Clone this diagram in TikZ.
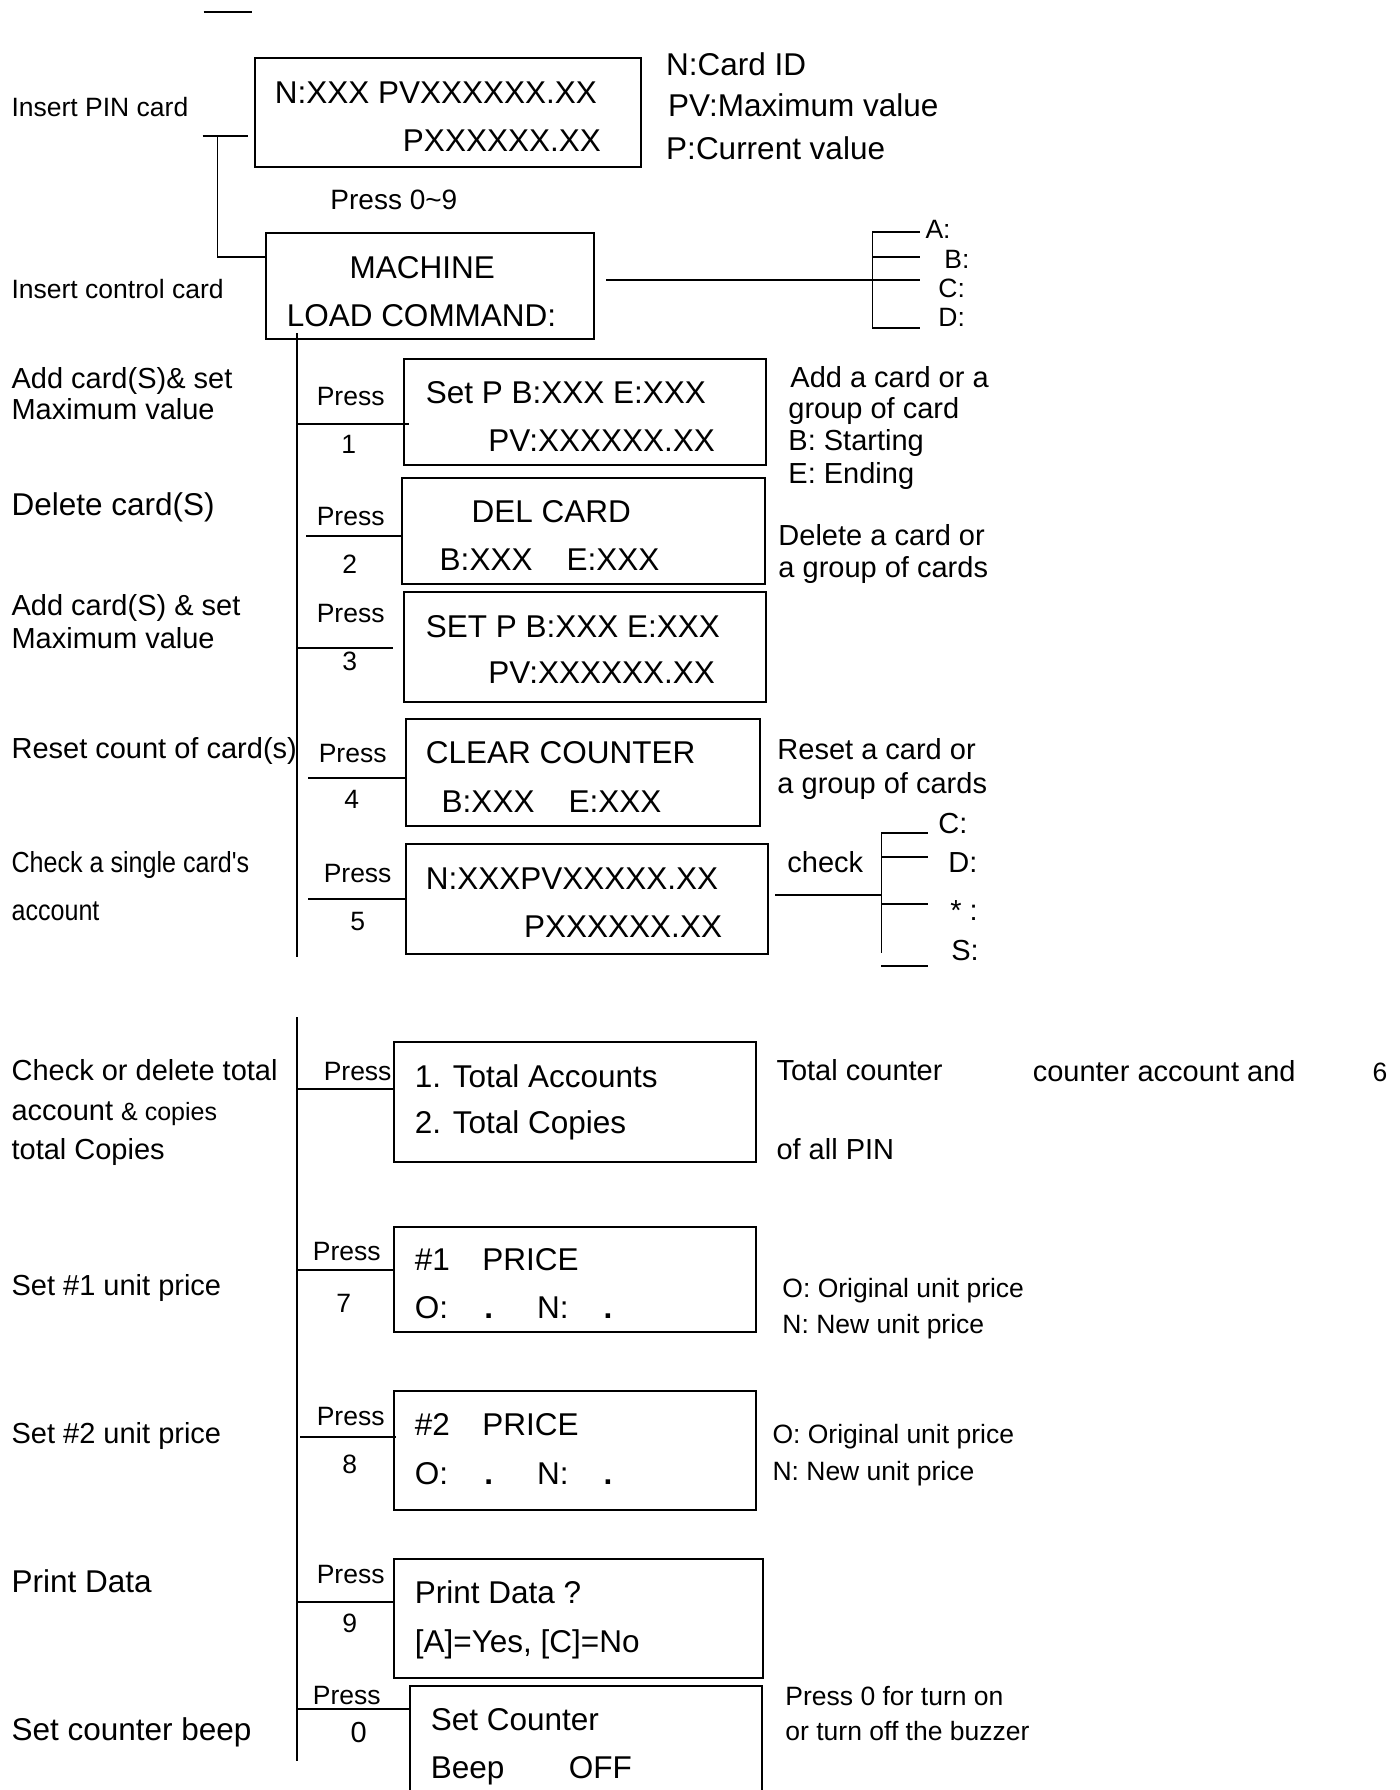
\documentclass[tikz,border=0pt]{standalone}
\usepackage{graphicx}
\usepackage{fontspec}
\setmainfont{Liberation Sans}
\usepackage{tikz}
\usetikzlibrary{positioning}

\begin{document}
\begin{tikzpicture}[x=0.9934pt, y=-1pt, line width=1.3pt]

	\tikzstyle{lcd}=[draw, line width=2pt, anchor=north west, inner sep=0pt]
	\tikzstyle{lcdtext}=[anchor=base west, inner sep=0pt, font=\fontsize{31.5}{36}\selectfont]
	\tikzstyle{caption}=[anchor=base west, inner sep=0pt, font=\fontsize{29}{34}\selectfont]
	\tikzstyle{hint}=[anchor=base west, inner sep=0pt, font=\fontsize{26.5}{30}\selectfont]
	\tikzstyle{press}=[anchor=base, inner sep=0pt, font=\fontsize{26.5}{30}\selectfont]
	\useasboundingbox (0,0) rectangle (1409.3,1790);
	\clip (0,0) rectangle (1409.3,1790);
	\fill[white] (0,0) rectangle (1409.3,1790);

	% top bar
	\coordinate (bar1) at (205,12);
	\coordinate (bar2) at (254,12);
	\draw (bar1) -- (bar2);

	% PIN card screen
	\node[lcd, minimum width=386, minimum height=109] (pin) at (256,57) {};
	\node[lcdtext] (pin-a) at (276,104) {N:XXX PVXXXXXX.XX};
	\node[lcdtext] (pin-b) at (405,152) {PXXXXXX.XX};
	\node[lcdtext] (n-id) at (670,76) {N:Card ID};
	\node[lcdtext] (pv-id) at (672,117) {PV:Maximum value};
	\node[lcdtext] (p-id) at (670,160) {P:Current value};
	\node[hint] (ins-pin) at (11,117) {Insert PIN card};
	\node[anchor=base west, inner sep=0pt, font=\fontsize{28}{32}\selectfont] (press09) at (332,209) {Press 0\textasciitilde 9};

	% control card screen
	\node[lcd, minimum width=328, minimum height=106] (machine) at (267,232) {};
	\node[anchor=base, inner sep=0pt, font=\fontsize{31.5}{36}\selectfont] (mach-a) at (425,278) {MACHINE};
	\node[lcdtext] (mach-b) at (288,326) {LOAD COMMAND:};
	\node[hint] (ins-ctl) at (11,298) {Insert control card};

	\coordinate (pin-l) at (204,136);
	\coordinate (pin-r) at (250,136);
	\coordinate (pin-v) at (219,136);
	\draw (pin-l) -- (pin-r);
	\draw (pin-v) |- (machine.west |- 0,257);

	% A B C D
	\coordinate (abcd-t) at (878,232);
	\coordinate (abcd-b) at (878,328);
	\draw (machine.east |- 0,280) ++(11,0) -- (894,280);
	\draw (abcd-t) -- (abcd-b);
	\foreach \y in {232,257,280,328}
		\draw (878,\y) -- (926,\y);
	\node[hint] (key-a) at (931,238) {A:};
	\node[hint] (key-b) at (950,268) {B:};
	\node[hint] (key-c) at (944,297) {C:};
	\node[hint] (key-d) at (944,326) {D:};

	% spines
	\coordinate (spine1-t) at (299,333);
	\coordinate (spine1-b) at (299,957);
	\coordinate (spine2-t) at (299,1017);
	\coordinate (spine2-b) at (299,1761);
	\draw (spine1-t) -- (spine1-b);
	\draw (spine2-t) -- (spine2-b);

	% 1
	\node[lcd, minimum width=362, minimum height=106] (setp1) at (406,358) {};
	\node[lcdtext] at (428,403) {Set P B:XXX E:XXX};
	\node[lcdtext] at (491,451) {PV:XXXXXX.XX};
	\node[press] (pr1) at (353,405) {Press};
	\node[press] (k1) at (351,453) {1};
	\coordinate (s1) at (300,424);
	\draw (s1) -- ([xshift=6pt]s1 -| setp1.west);
	\node[caption] at (11,388) {Add card(S)\& set};
	\node[caption] at (11,419) {Maximum value};
	\node[caption] at (795,387) {Add a card or a};
	\node[caption] at (793,418) {group of card};
	\node[caption] at (793,450) {B: Starting};
	\node[caption] at (793,483) {E: Ending};

	% 2
	\node[lcd, minimum width=363, minimum height=106] (del) at (404,477) {};
	\node[lcdtext] at (474,522) {DEL CARD};
	\node[lcdtext] at (442,570) {B:XXX\hspace{34pt}E:XXX};
	\node[press] (pr2) at (353,525) {Press};
	\node[press] (k2) at (352,573) {2};
	\coordinate (s2) at (300,536);
	\draw[shorten <=8pt] (s2) -- (s2 -| del.west);
	\node[lcdtext] at (11,515) {Delete card(S)};
	\node[caption] at (783,545) {Delete a card or};
	\node[caption] at (783,577) {a group of cards};

	% 3
	\node[lcd, minimum width=362, minimum height=110] (setp3) at (406,591) {};
	\node[lcdtext] at (428,637) {SET P B:XXX E:XXX};
	\node[lcdtext] at (491,683) {PV:XXXXXX.XX};
	\node[press] (pr3) at (353,622) {Press};
	\node[press] (k3) at (352,670) {3};
	\coordinate (s3) at (300,648);
	\draw[shorten >=10pt] (s3) -- (s3 -| setp3.west);
	\node[caption] at (11,615) {Add card(S) \& set};
	\node[caption] at (11,648) {Maximum value};

	% 4
	\node[lcd, minimum width=354, minimum height=107] (clear) at (408,718) {};
	\node[lcdtext] at (428,763) {CLEAR COUNTER};
	\node[lcdtext] at (444,812) {B:XXX\hspace{34pt}E:XXX};
	\node[press] (pr4) at (355,762) {Press};
	\node[press] (k4) at (354,808) {4};
	\coordinate (s4) at (300,778);
	\draw[shorten <=10pt] (s4) -- (s4 -| clear.west);
	\node[caption] at (11,758) {Reset count of card(s)};
	\node[caption] at (782,759) {Reset a card or};
	\node[caption] at (782,793) {a group of cards};

	% 5
	\node[lcd, minimum width=362, minimum height=110] (single) at (408,843) {};
	\node[lcdtext] at (428,889) {N:XXXPVXXXXX.XX};
	\node[lcdtext] at (527,937) {PXXXXXX.XX};
	\node[press] (pr5) at (360,882) {Press};
	\node[press] (k5) at (360,930) {5};
	\coordinate (s5) at (300,899);
	\draw[shorten <=10pt] (s5) -- (s5 -| single.west);
	\node[caption] at (11,872) {\scalebox{0.865}[1]{Check a single card\textquotesingle s}};
	\node[caption] at (11,920) {\scalebox{0.865}[1]{account}};
	\node[caption] (chk) at (792,872) {check};
	\coordinate (cdsx-t) at (887,833);
	\coordinate (cdsx-b) at (887,953);
	\draw (single.east |- 0,895) ++(6,0) -- (888,895);
	\draw (cdsx-t) -- (cdsx-b);
	\foreach \y in {833,857,904,966}
		\draw (887,\y) -- (934,\y);
	\node[caption] at (944,833) {C:};
	\node[caption] at (954,872) {D:};
	\node[caption] at (956,920) {* :};
	\node[caption] at (957,960) {S:};

	% 6
	\node[lcd, minimum width=362, minimum height=120] (total) at (396,1041) {};
	\node[lcdtext] at (417,1087) {1. Total Accounts};
	\node[lcdtext] at (417,1133) {2. Total Copies};
	\node[press] (pr6) at (360,1080) {Press};
	\coordinate (s6) at (300,1089);
	\draw (s6) -- (s6 -| total.west);
	\node[caption] at (11,1080) {Check or delete total};
	\node[caption] at (11,1120) {account {\fontsize{25}{30}\selectfont\& copies}};
	\node[caption] at (11,1159) {total Copies};
	\node[caption] at (781,1080) {Total counter};
	\node[caption] at (1039,1081) {counter account and};
	\node[hint] at (1381,1081) {6};
	\node[caption] at (781,1159) {of all PIN};

	% 7
	\node[lcd, minimum width=362, minimum height=105] (price1) at (396,1226) {};
	\node[lcdtext] at (417,1270) {\#1};
	\node[lcdtext] at (485,1270) {PRICE};
	\node[lcdtext] at (417,1318) {O:};
	\node[lcdtext] at (487,1318) {\textbf{.}};
	\node[lcdtext] at (540,1318) {N:};
	\node[lcdtext] at (607,1318) {\textbf{.}};
	\node[press] (pr7) at (349,1260) {Press};
	\node[press] (k7) at (346,1312) {7};
	\coordinate (s7) at (300,1270);
	\draw (s7) -- (s7 -| price1.west);
	\node[caption] at (11,1295) {Set \#1 unit price};
	\node[hint] at (787,1297) {O: Original unit price};
	\node[hint] at (787,1333) {N: New unit price};

	% 8
	\node[lcd, minimum width=362, minimum height=119] (price2) at (396,1390) {};
	\node[lcdtext] at (417,1435) {\#2};
	\node[lcdtext] at (485,1435) {PRICE};
	\node[lcdtext] at (417,1484) {O:};
	\node[lcdtext] at (487,1484) {\textbf{.}};
	\node[lcdtext] at (540,1484) {N:};
	\node[lcdtext] at (607,1484) {\textbf{.}};
	\node[press] (pr8) at (353,1425) {Press};
	\node[press] (k8) at (352,1473) {8};
	\coordinate (s8) at (302,1437);
	\draw (s8) -- ([xshift=3pt]s8 -| price2.west);
	\node[caption] at (11,1443) {Set \#2 unit price};
	\node[hint] at (777,1443) {O: Original unit price};
	\node[hint] at (777,1480) {N: New unit price};

	% 9
	\node[lcd, minimum width=369, minimum height=119] (print) at (396,1558) {};
	\node[lcdtext] at (417,1603) {Print Data ?};
	\node[lcdtext] at (417,1652) {[A]=Yes, [C]=No};
	\node[press] (pr9) at (353,1583) {Press};
	\node[press] (k9) at (352,1632) {9};
	\coordinate (s9) at (300,1602);
	\draw (s9) -- (s9 -| print.west);
	\node[lcdtext] at (11,1592) {Print Data};

	% 0
	\node[lcd, minimum width=352, minimum height=145] (beep) at (412,1685) {};
	\node[lcdtext] at (433,1730) {Set Counter};
	\node[lcdtext] at (433,1778) {Beep};
	\node[lcdtext] at (572,1778) {OFF};
	\node[press] (pr0) at (349,1704) {Press};
	\node[press, font=\fontsize{29}{34}\selectfont] (k0) at (361,1742) {0};
	\coordinate (s0) at (300,1709);
	\draw (s0) -- (s0 -| beep.west);
	\node[lcdtext] at (11,1740) {Set counter beep};
	\node[hint] at (790,1705) {Press 0 for turn on};
	\node[hint] at (790,1740) {or turn off the buzzer};

\end{tikzpicture}
\end{document}
